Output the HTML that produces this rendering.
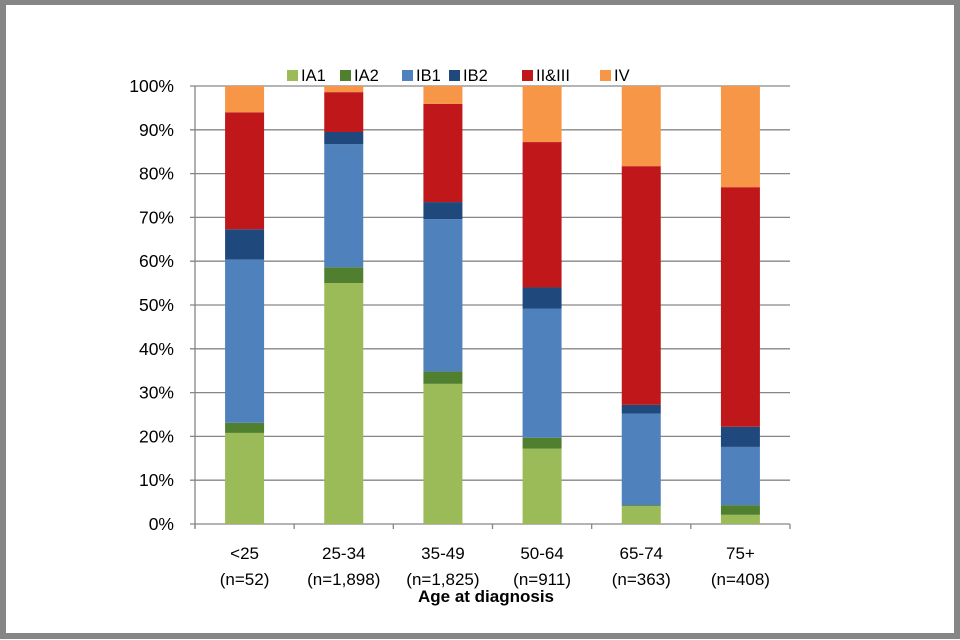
<!DOCTYPE html>
<html><head><meta charset="utf-8"><style>
html,body{margin:0;padding:0;background:#fff}
#frame{position:absolute;left:0;top:0;width:948px;height:628px;border:6px solid #868686;border-top-width:5px;border-bottom-width:6px;background:#fff}
svg{position:absolute;left:0;top:0}
text{font-family:"Liberation Sans",sans-serif;fill:#000}
</style></head><body>
<div id="frame"></div>
<svg id="chart" width="960" height="640"></svg>
<script>
const categories=["<25","25-34","35-49","50-64","65-74","75+"];
const countLabels=["(n=52)","(n=1,898)","(n=1,825)","(n=911)","(n=363)","(n=408)"];
const seriesNames=["IA1","IA2","IB1","IB2","II&III","IV"];
const seriesColors=["#9bbb59","#4f7f2f","#4f81bd","#1f497d","#c0181a","#f79646"];
const IA1=[20.8,55.0,32.0,17.2,4.1,2.1];
const IA2=[2.3,3.6,2.8,2.5,0.2,2.2];
const IB1=[37.3,28.1,34.8,29.5,20.9,13.3];
const IB2=[6.9,2.8,3.9,4.8,2.0,4.6];
const II_III=[26.7,9.1,22.4,33.2,54.5,54.7];
const IV=[6.0,1.4,4.1,12.8,18.3,23.1];
const seriesValues=[IA1,IA2,IB1,IB2,II_III,IV];
const yTicks=[0,10,20,30,40,50,60,70,80,90,100];

const NS="http://www.w3.org/2000/svg";
const svg=document.getElementById('chart');
const X0=195,X1=790,Y0=524,Y100=86;
const step=(X1-X0)/categories.length;
const bw=39;
const yy=v=>Y0-(Y0-Y100)*v/100;
const xc=i=>X0+step*(i+0.5);
function mk(t,a){const e=document.createElementNS(NS,t);for(const k in a)e.setAttribute(k,a[k]);svg.appendChild(e);return e;}

yTicks.forEach(t=>{
  const g=mk('line',{x1:X0-5,x2:X1,y1:yy(t),y2:yy(t),stroke:'#868686','stroke-width':1.3});
  
  
  const l=mk('text',{x:174,y:yy(t)+6,'text-anchor':'end','font-size':17.5});
  l.textContent=t+'%';
  
  
});
const ax=mk('line',{x1:X0,x2:X0,y1:Y100,y2:Y0+4,stroke:'#868686','stroke-width':1.3});


for(let i=0;i<=categories.length;i++){
  const tk=mk('line',{x1:X0+step*i,x2:X0+step*i,y1:Y0,y2:Y0+5,stroke:'#868686','stroke-width':1.3});
  
  
}
categories.forEach((c,i)=>{
  let acc=0;
  seriesValues.forEach((arr,s)=>{
    const v=arr[i];
    const r=mk('rect',{x:xc(i)-bw/2,y:yy(acc+v),width:bw,height:yy(acc)-yy(acc+v),fill:seriesColors[s]});
    
    
    acc+=v;
  });
  const t1=mk('text',{x:xc(i),y:559,'text-anchor':'middle','font-size':17});
  t1.textContent=c;
  
  
  const t2=mk('text',{x:xc(i),y:585,'text-anchor':'middle','font-size':17});
  t2.textContent=countLabels[i];
  
  
});
const title=mk('text',{x:486,y:602,'text-anchor':'middle','font-size':17,'font-weight':'bold'});
title.textContent='Age at diagnosis';



const legX=[287,340,402,449,522,600];
seriesNames.forEach((n,s)=>{
  const sw=mk('rect',{x:legX[s],y:70,width:11,height:11,fill:seriesColors[s]});
  
  
  const t=mk('text',{x:legX[s]+14,y:81,'font-size':16.5});
  t.textContent=n;
  
  
});
</script>
</body></html>
